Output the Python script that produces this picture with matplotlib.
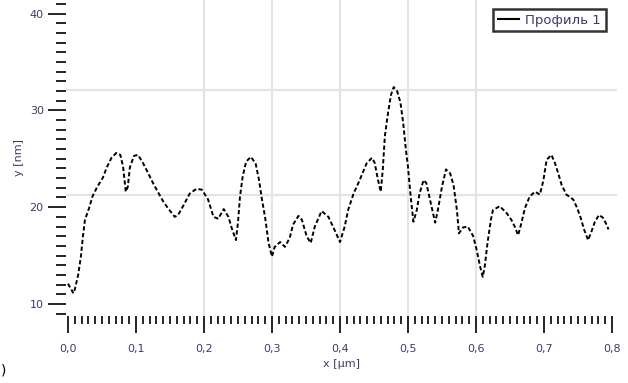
import matplotlib
matplotlib.use("Agg")
import matplotlib.pyplot as plt
from matplotlib.lines import Line2D
from matplotlib.ticker import MultipleLocator

# profile data: position along the line (um) and height (nm)
x_um = [
    0.000, 0.008, 0.010, 0.015, 0.019, 0.022, 0.025, 0.031, 0.036, 0.043,
    0.051, 0.057, 0.064, 0.071, 0.077, 0.081, 0.085, 0.088, 0.091, 0.097,
    0.103, 0.110, 0.118, 0.125, 0.132, 0.140, 0.147, 0.157, 0.162, 0.170,
    0.179, 0.189, 0.197, 0.206, 0.214, 0.221, 0.229, 0.236, 0.241, 0.247,
    0.250, 0.253, 0.257, 0.262, 0.269, 0.276, 0.281, 0.285, 0.290, 0.295,
    0.300, 0.304, 0.312, 0.319, 0.326, 0.331, 0.339, 0.344, 0.351, 0.357,
    0.363, 0.373, 0.383, 0.393, 0.400, 0.407, 0.412, 0.420, 0.429, 0.439,
    0.447, 0.451, 0.456, 0.460, 0.463, 0.466, 0.470, 0.475, 0.479, 0.484,
    0.489, 0.493, 0.497, 0.500, 0.504, 0.508, 0.513, 0.517, 0.523, 0.527,
    0.532, 0.540, 0.544, 0.550, 0.556, 0.562, 0.567, 0.572, 0.575, 0.581,
    0.588, 0.596, 0.601, 0.606, 0.610, 0.613, 0.617, 0.622, 0.625, 0.635,
    0.645, 0.652, 0.657, 0.662, 0.667, 0.672, 0.679, 0.687, 0.694, 0.699,
    0.704, 0.711, 0.716, 0.721, 0.726, 0.733, 0.743, 0.749, 0.754, 0.759,
    0.765, 0.770, 0.775, 0.781, 0.787, 0.792, 0.795,
]
y_nm = [
    12.1, 11.1, 11.5, 13.0, 14.9, 17.0, 18.7, 19.9, 21.1, 22.1,
    23.0, 24.1, 25.1, 25.6, 25.4, 24.2, 21.6, 22.1, 24.1, 25.3,
    25.4, 24.6, 23.5, 22.5, 21.6, 20.6, 19.9, 19.0, 19.2, 20.2,
    21.4, 21.9, 21.8, 20.8, 19.0, 18.8, 19.8, 19.0, 17.8, 16.6,
    18.4, 21.1, 23.2, 24.7, 25.2, 24.5, 22.8, 20.9, 18.9, 16.3,
    14.9, 15.9, 16.4, 15.9, 16.8, 18.2, 19.1, 18.7, 17.0, 16.3,
    18.0, 19.6, 19.0, 17.5, 16.4, 18.0, 19.7, 21.4, 22.8, 24.5,
    25.1, 24.6, 22.8, 21.6, 23.9, 27.3, 29.4, 31.6, 32.4, 32.0,
    30.8, 28.7, 25.9, 24.2, 21.1, 18.5, 19.7, 21.4, 22.8, 22.5,
    20.9, 18.4, 19.7, 22.1, 23.9, 23.5, 22.3, 19.7, 17.3, 17.9,
    18.0, 17.0, 15.6, 13.9, 12.8, 13.9, 16.3, 18.7, 19.7, 20.1,
    19.4, 18.7, 18.0, 17.1, 18.4, 19.9, 21.1, 21.6, 21.3, 22.7,
    24.9, 25.4, 24.6, 23.5, 22.3, 21.3, 20.8, 19.9, 18.9, 17.7,
    16.6, 17.5, 18.5, 19.2, 18.9, 18.2, 17.7,
]

x_ticks = [0.0, 0.1, 0.2, 0.3, 0.4, 0.5, 0.6, 0.7, 0.8]
x_tick_labels = ["0,0", "0,1", "0,2", "0,3", "0,4", "0,5", "0,6", "0,7", "0,8"]
y_ticks = [10, 20, 30, 40]
grid_x = [0.2, 0.3, 0.4, 0.5, 0.6]
grid_y = [21.3, 32.1]

label_color = "#3b3b6b"

fig = plt.figure(figsize=(6.28, 3.83), dpi=100)
ax = fig.add_axes([0.105, 0.175, 0.877, 0.825])

# grid
for gx in grid_x:
    ax.axvline(gx, color="#e4e4e4", lw=1.5, zorder=0)
for gy in grid_y:
    ax.axhline(gy, color="#e4e4e4", lw=1.5, zorder=0)

# profile curve
ax.plot(x_um, y_nm, color="black", lw=1.4, ls=(0, (2.2, 1.3)), zorder=3)

ax.set_xlim(-0.003, 0.807)
ax.set_ylim(8.76, 41.4)

for side in ["top", "right", "bottom", "left"]:
    ax.spines[side].set_visible(False)

ax.set_xticks(x_ticks)
ax.set_xticklabels(x_tick_labels)
ax.xaxis.set_minor_locator(MultipleLocator(0.01))
ax.set_yticks(y_ticks)
ax.yaxis.set_minor_locator(MultipleLocator(1))

ax.tick_params(axis="x", which="major", direction="out", length=12, width=1.2,
               pad=8, labelsize=8, labelcolor=label_color)
ax.tick_params(axis="x", which="minor", direction="out", length=6, width=1.2)
ax.tick_params(axis="y", which="major", direction="out", length=13, width=1.2,
               pad=3, labelsize=8, labelcolor=label_color)
ax.tick_params(axis="y", which="minor", direction="out", length=7, width=1.2)

ax.set_xlabel("x [μm]", fontsize=8, color=label_color, labelpad=4)
ax.set_ylabel("y [nm]", fontsize=8, color=label_color, labelpad=4)

# legend with a solid sample line
handle = Line2D([], [], color="black", lw=1.5)
leg = ax.legend([handle], ["Профиль 1"], loc="upper right",
                bbox_to_anchor=(0.992, 0.992), fontsize=9.5, frameon=True,
                fancybox=False, handlelength=1.6, borderpad=0.35,
                handletextpad=0.5)
leg.get_frame().set_edgecolor("black")
leg.get_frame().set_linewidth(1.8)
for t in leg.get_texts():
    t.set_color(label_color)

fig.text(1 / 628, 13 / 383, ")", fontsize=10, ha="left", va="center")

fig.savefig("out.png", dpi=100)
